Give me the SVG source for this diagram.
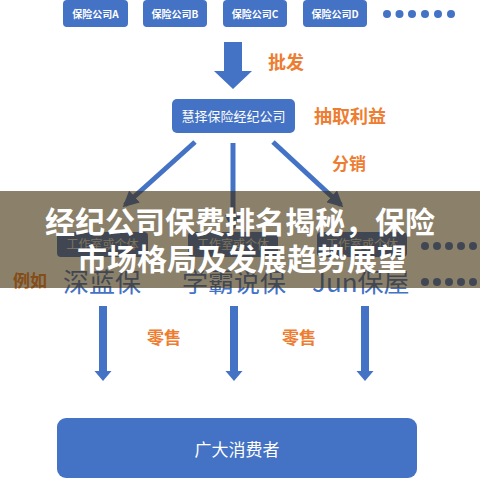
<svg xmlns="http://www.w3.org/2000/svg" width="480" height="480" viewBox="0 0 480 480">
<style>
.box{fill:#4472C4}
.wt{fill:#fff;font-family:"Noto Sans CJK SC","Noto Sans",sans-serif;text-anchor:middle}
.or{fill:#ED7D31;font-family:"Noto Sans CJK SC",sans-serif;font-weight:bold}
.bl{fill:#4472C4;font-family:"Noto Sans CJK SC",sans-serif}
.gray{fill:#dcdcdc;font-family:"Noto Sans CJK SC",sans-serif;text-anchor:middle;font-size:12px}
.dot{fill:#4472C4}
.ln{stroke:#4472C4;stroke-width:5;fill:none}
</style>
<defs>
<marker id="ah" viewBox="0 0 10 10" refX="8" refY="5" markerWidth="3.2" markerHeight="3.2" orient="auto">
<path d="M0,0 L10,5 L0,10 z" fill="#4472C4"/>
</marker>
</defs>
<rect width="480" height="480" fill="#fff"/>
<g id="companyA"><rect class="box" x="63" y="0" width="65" height="27" rx="4"/><text class="wt" x="95.5" y="18" font-size="10" font-weight="bold">保险公司A</text></g>
<g id="companyB"><rect class="box" x="143" y="0" width="64" height="27" rx="4"/><text class="wt" x="175" y="18" font-size="10" font-weight="bold">保险公司B</text></g>
<g id="companyC"><rect class="box" x="223" y="0" width="64" height="27" rx="4"/><text class="wt" x="255" y="18" font-size="10" font-weight="bold">保险公司C</text></g>
<g id="companyD"><rect class="box" x="303" y="0" width="64" height="27" rx="4"/><text class="wt" x="335" y="18" font-size="10" font-weight="bold">保险公司D</text></g>
<g id="dots-top">
<circle class="dot" cx="387" cy="14" r="4"/><circle class="dot" cx="399.5" cy="14" r="4"/><circle class="dot" cx="412" cy="14" r="4"/><circle class="dot" cx="425" cy="14" r="4"/><circle class="dot" cx="438" cy="14" r="4"/><circle class="dot" cx="451" cy="14" r="4"/>
</g>
<g id="broker"><rect class="box" x="172" y="99" width="123" height="34" rx="5"/><text class="wt" x="233.5" y="121" font-size="13">慧择保险经纪公司</text></g>
<g id="studios">
<rect x="57" y="232" width="91" height="25" rx="4" fill="#4472C4"/><text class="gray" x="102.5" y="249">工作室或个体</text>
<rect x="188" y="232" width="90" height="25" rx="4" fill="#4472C4"/><text class="gray" x="233" y="249">工作室或个体</text>
<rect x="317" y="232" width="90" height="25" rx="4" fill="#4472C4"/><text class="gray" x="362" y="249">工作室或个体</text>
</g>
<g id="dots-mid">
<circle class="dot" cx="425" cy="246" r="4"/><circle class="dot" cx="437" cy="246" r="4"/><circle class="dot" cx="449" cy="246" r="4"/><circle class="dot" cx="461" cy="246" r="4"/><circle class="dot" cx="473" cy="246" r="4"/>
<circle class="dot" cx="425" cy="282" r="4"/><circle class="dot" cx="437" cy="282" r="4"/><circle class="dot" cx="449" cy="282" r="4"/><circle class="dot" cx="461" cy="282" r="4"/><circle class="dot" cx="473" cy="282" r="4"/>
</g>
<g id="examples">
<text class="or" x="13" y="287" font-size="17" font-weight="normal">例如</text>
<text class="bl" x="63" y="292" font-size="26">深蓝保</text>
<text class="bl" x="182" y="292" font-size="26">学霸说保</text>
<text class="bl" x="312" y="292" font-size="26">Jun保屋</text>
</g>
<g id="consumers"><rect class="box" x="57" y="418" width="360" height="60" rx="9"/><text class="wt" x="237" y="456" font-size="17">广大消费者</text></g>
<g id="connectors">
<path d="M224,42 H242 V71 H252 L233,89 L214,71 H224 Z" fill="#4472C4"/>
<line class="ln" x1="195" y1="142" x2="125" y2="205" marker-end="url(#ah)"/>
<line class="ln" x1="233" y1="143" x2="233" y2="228" marker-end="url(#ah)"/>
<line class="ln" x1="273" y1="142" x2="341" y2="205" marker-end="url(#ah)"/>
<path d="M99,306 H107 V371 H111.5 L103,381 L94.5,371 H99 Z" fill="#4472C4"/>
<path d="M230,306 H238 V371 H242.5 L234,381 L225.5,371 H230 Z" fill="#4472C4"/>
<path d="M361,306 H369 V371 H373.5 L365,381 L356.5,371 H361 Z" fill="#4472C4"/>
</g>
<g id="labels">
<text class="or" x="268" y="69" font-size="18">批发</text>
<text class="or" x="314" y="123" font-size="18">抽取利益</text>
<text class="or" x="332" y="170" font-size="17" font-weight="normal">分销</text>
<text class="or" x="147" y="344" font-size="17">零售</text>
<text class="or" x="282" y="344" font-size="17">零售</text>
</g>
<g id="banner">
<rect x="0" y="191" width="480" height="97" fill="rgb(62,43,7)" fill-opacity="0.6"/>
<text class="wt" x="240" y="233" font-size="30" font-weight="bold">经纪公司保费排名揭秘，保险</text>
<text class="wt" x="242" y="270" font-size="30" font-weight="bold">市场格局及发展趋势展望</text>
</g>
</svg>
